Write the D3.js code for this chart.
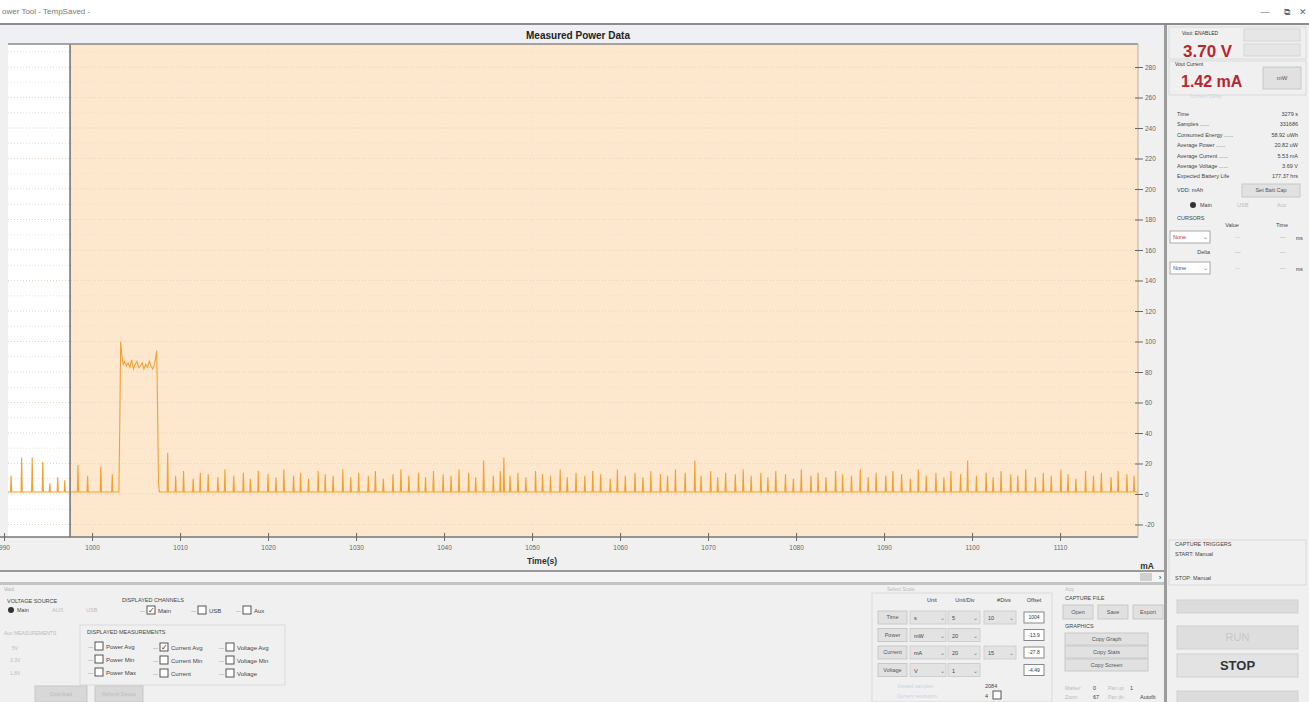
<!DOCTYPE html>
<html><head><meta charset="utf-8">
<script src="https://cdn.jsdelivr.net/npm/d3@7"></script>
<style>
html,body{margin:0;padding:0;background:#f0f0f0;overflow:hidden;}
svg{display:block;font-family:"Liberation Sans",Arial,sans-serif;}
</style></head>
<body>
<svg id="c" width="1309" height="702"></svg>
<script>
// ---------------- DATA ----------------
const xTickValues = [990,1000,1010,1020,1030,1040,1050,1060,1070,1080,1090,1100,1110];
const xTickLabels = ["990","1000","1010","1020","1030","1040","1050","1060","1070","1080","1090","1100","1110"];
const yTickValues = [-20,0,20,40,60,80,100,120,140,160,180,200,220,240,260,280];
const yTickLabels = ["-20","0","20","40","60","80","100","120","140","160","180","200","220","240","260","280"];
const baseCurrent = 1.3;   // mA idle level
const spikeTimes = [990.8,992.0,993.2,994.4,995.2,996.1,996.9,998.4,999.5,1001.0,1002.3,
 1008.6,1009.5,1010.4,1011.5,1012.3,1013.2,1014.3,1015.1,1016.1,1017.2,1018.0,1018.9,1020.0,1020.9,
 1021.8,1022.9,1023.7,1024.6,1025.7,1026.5,1027.4,1028.5,1029.4,1030.3,1031.4,1032.2,1033.1,1034.2,
 1035.1,1036.0,1037.1,1037.9,1038.8,1039.9,1040.8,1041.7,1042.8,1043.6,1044.5,1045.6,1046.4,1046.8,
 1047.5,1048.4,1049.3,1050.4,1051.2,1052.1,1053.2,1054.0,1055.0,1056.0,1056.9,1057.8,1058.9,1059.7,
 1060.6,1061.7,1062.6,1063.5,1064.6,1065.4,1066.3,1067.4,1068.5,1069.2,1070.3,1071.1,1072.0,1073.1,
 1074.0,1074.9,1076.0,1076.8,1077.7,1078.8,1079.7,1080.6,1081.7,1082.5,1083.4,1084.5,1085.3,1086.3,
 1087.3,1088.2,1089.1,1090.2,1091.0,1092.0,1093.0,1093.9,1094.8,1095.9,1096.8,1097.6,1098.7,1099.5,
 1100.5,1101.6,1102.4,1103.3,1104.4,1105.2,1106.1,1107.2,1108.1,1109.0,1110.1,1110.9,1111.8,1112.9,
 1113.8,1114.7,1115.8,1116.6,1117.6,1118.4];
const spikeValues = [12,24,24,21,7,11,9,19,12,18,13,
 27,12,15,10,14,13,11,16,12,14,10,15,13,11,
 16,12,14,10,15,13,12,16,11,14,12,15,10,13,
 16,12,14,11,15,13,12,16,14,11,22,12,15,24,
 12,14,11,15,13,12,16,11,14,12,15,13,10,16,
 12,14,11,15,13,12,16,14,22,12,15,11,14,13,
 16,12,14,11,15,13,10,16,12,14,11,15,13,12,
 16,11,14,12,15,13,10,16,12,14,11,15,13,22,
 12,14,11,15,13,12,16,11,14,12,16,13,10,15,
 12,14,11,15,13,12];
const burstTimes = [1003.05,1003.15,1003.25,1003.4,1003.55,1003.7,1003.9,1004.1,1004.3,1004.5,1004.7,1004.9,
 1005.1,1005.3,1005.5,1005.7,1005.9,1006.1,1006.3,1006.5,1006.7,1006.9,1007.1,1007.25,1007.35,1007.45,1007.55,1007.65];
const burstValues = [1.3,45,100,90,85,87,84,86,83,88,82,85,87,83,84,86,82,85,83,87,84,82,85,90,94,55,8,1.3];
const captureStart = 997.5;

const statLabels = ["Time","Samples","Consumed Energy","Average Power","Average Current","Average Voltage","Expected Battery Life"];
const statValues = ["3279  s","331686","58.92  uWh","20.82  uW","5.53  mA","3.69  V","177.37  hrs"];

// ---------------- CHART ----------------
const svg = d3.select("#c");
const plotL = 8, plotR = 1138, plotT = 44, plotB = 537;
const x = d3.scaleLinear().domain([990.45, 1118.86]).range([plotL, plotR]);
const y = d3.scaleLinear().domain([-28.2, 295.1]).range([plotB, plotT]);

// window title bar
svg.append("rect").attr("x",0).attr("y",0).attr("width",1309).attr("height",23).attr("fill","#ffffff");
svg.append("text").attr("x",2).attr("y",14).attr("font-size",8).attr("fill","#777").text("ower Tool - TempSaved -");
[["—",1265],["⧉",1287],["✕",1303]].forEach(([s,xx])=>svg.append("text").attr("x",xx).attr("y",15).attr("text-anchor","middle").attr("font-size",9).attr("fill","#666").text(s));
svg.append("rect").attr("x",0).attr("y",23).attr("width",1309).attr("height",2).attr("fill","#8c8c8c");

// chart header
svg.append("rect").attr("x",0).attr("y",25).attr("width",1165).attr("height",19).attr("fill","#eef0f3");
svg.append("text").attr("x",578).attr("y",39).attr("text-anchor","middle").attr("font-size",10).attr("font-weight","bold").attr("fill","#222").text("Measured Power Data");

// plot backgrounds
svg.append("rect").attr("x",plotL).attr("y",plotT).attr("width",plotR-plotL).attr("height",plotB-plotT).attr("fill","#ffffff");
svg.append("rect").attr("x",x(captureStart)).attr("y",plotT).attr("width",plotR-x(captureStart)).attr("height",plotB-plotT).attr("fill","#fde8cd");

// grid
const grid = svg.append("g");
d3.range(-20, 291, 10).forEach(v=>{
  grid.append("line").attr("x1",plotL).attr("x2",plotR).attr("y1",y(v)).attr("y2",y(v))
    .attr("stroke", v%20===0 ? "#e2d5c3" : "#ebe0d0").attr("stroke-width",1).attr("stroke-dasharray","1,2");
});
xTickValues.forEach(v=>{
  if (x(v) > plotL) grid.append("line").attr("x1",x(v)).attr("x2",x(v)).attr("y1",plotT).attr("y2",plotB)
    .attr("stroke","#efe4d4").attr("stroke-dasharray","1,3");
});

// series
const pts = [];
pts.push([990.45, baseCurrent]);
const allEvents = spikeTimes.map((t,i)=>({t, v:spikeValues[i]}));
let bi = 0;
allEvents.forEach(e=>{
  if (bi===0 && e.t > burstTimes[0]) { burstTimes.forEach((t,i)=>pts.push([t,burstValues[i]])); bi=1; }
  pts.push([e.t-0.07, baseCurrent]); pts.push([e.t, e.v]); pts.push([e.t+0.07, baseCurrent]);
});
pts.push([1118.86, baseCurrent]);
const line = d3.line().x(d=>x(d[0])).y(d=>y(d[1]));
svg.append("path").attr("d", line(pts)).attr("fill","none").attr("stroke","#f3a032").attr("stroke-width",1.1);

// plot border
svg.append("line").attr("x1",x(captureStart)).attr("x2",x(captureStart)).attr("y1",plotT).attr("y2",plotB).attr("stroke","#6e6e6e").attr("stroke-width",1.5);
svg.append("line").attr("x1",plotL).attr("x2",plotR).attr("y1",plotT).attr("y2",plotT).attr("stroke","#8a8a8a").attr("stroke-width",1.5);
svg.append("line").attr("x1",0).attr("x2",plotR).attr("y1",plotB).attr("y2",plotB).attr("stroke","#777").attr("stroke-width",1.5);
svg.append("line").attr("x1",plotR).attr("x2",plotR).attr("y1",plotT).attr("y2",plotB).attr("stroke","#b9b0a4").attr("stroke-width",1);

// axes
const xAxis = d3.axisBottom(x).tickValues(xTickValues).tickFormat((d,i)=>xTickLabels[i]).tickSize(8).tickPadding(4);
const gx = svg.append("g").attr("transform",`translate(0,${plotB-4})`).call(xAxis);
gx.select(".domain").remove();
gx.selectAll("line").attr("stroke","#666");
gx.selectAll("text").attr("font-size",6.5).attr("fill","#666");
const yAxis = d3.axisRight(y).tickValues(yTickValues).tickFormat((d,i)=>yTickLabels[i]).tickSize(8).tickPadding(2);
const gy = svg.append("g").attr("transform",`translate(${plotR-3},0)`).call(yAxis);
gy.select(".domain").remove();
gy.selectAll("line").attr("stroke","#666");
gy.selectAll("text").attr("font-size",6.5).attr("fill","#666");

svg.append("text").attr("x",542).attr("y",564).attr("text-anchor","middle").attr("font-size",8.5).attr("font-weight","bold").attr("fill","#333").text("Time(s)");
svg.append("text").attr("x",1147).attr("y",569).attr("text-anchor","middle").attr("font-size",8.5).attr("font-weight","bold").attr("fill","#333").text("mA");

// scroll strip
svg.append("rect").attr("x",0).attr("y",570).attr("width",1165).attr("height",2).attr("fill","#9a9a9a");
svg.append("rect").attr("x",0).attr("y",572).attr("width",1165).attr("height",10).attr("fill","#f4f4f4");
svg.append("rect").attr("x",1140).attr("y",573).attr("width",12).attr("height",8).attr("fill","#d0d0d0");
svg.append("text").attr("x",1160).attr("y",580).attr("text-anchor","middle").attr("font-size",8).attr("fill","#333").text("›");
svg.append("rect").attr("x",0).attr("y",582).attr("width",1165).attr("height",3).attr("fill","#c4c4c4");

// right divider
svg.append("rect").attr("x",1164).attr("y",25).attr("width",3).attr("height",677).attr("fill","#9c9c9c");

// ---------------- UI helpers ----------------
function t(xx,yy,s,o={}){return svg.append("text").attr("x",xx).attr("y",yy).attr("font-size",o.fs||6).attr("fill",o.c||"#444")
  .attr("font-weight",o.fw||"normal").attr("text-anchor",o.a||"start").text(s);}
function btn(xx,yy,w,h,s,o={}){svg.append("rect").attr("x",xx).attr("y",yy).attr("width",w).attr("height",h).attr("fill",o.bg||"#e1e1e1").attr("stroke",o.st||"#c8c8c8");
  if(s) t(xx+w/2,yy+h/2+(o.fs||6)*0.35,s,{fs:o.fs||6,c:o.c||"#555",fw:o.fw,a:"middle"});}
function cb(xx,yy,checked,label){svg.append("rect").attr("x",xx).attr("y",yy-7).attr("width",8).attr("height",8).attr("fill","#fff").attr("stroke","#555");
  if(checked) t(xx+4,yy,"✓",{fs:8,c:"#333",a:"middle"}); t(xx-7,yy,"—",{fs:5,c:"#999"}); t(xx+11,yy,label,{fs:6,c:"#444"});}
function box(xx,yy,w,h){svg.append("rect").attr("x",xx).attr("y",yy).attr("width",w).attr("height",h).attr("fill","none").attr("stroke","#dadada");}

// ---------------- right panel ----------------
box(1169,27,137,32); box(1169,61,137,34);
t(1182,35,"Vout:  ENABLED",{fs:5,c:"#333"});
t(1183,57,"3.70  V",{fs:17,c:"#b8262f",fw:"bold"});
btn(1244,29,56,12,"",{bg:"#e6e6e6",st:"#d6d6d6"}); btn(1244,44,56,12,"",{bg:"#e6e6e6",st:"#d6d6d6"});
t(1175,66,"Vout Current",{fs:5,c:"#333"});
t(1181,87,"1.42  mA",{fs:16,c:"#b8262f",fw:"bold"});
btn(1263,67,38,22,"mW",{fs:6});
t(1190,98,"Convert Delay",{fs:5,c:"#c8d6ea"});
statLabels.forEach((s,i)=>{const yy=116+i*10.4; t(1177,yy,s+(i>0&&i<6?" ......":""),{fs:5.5,c:"#444"}); t(1298,yy,statValues[i],{fs:5.5,c:"#444",a:"end"});});
t(1177,192,"VDD:   mAh",{fs:5.5}); btn(1242,184,58,13,"Set Batt Cap",{fs:5.5});
svg.append("circle").attr("cx",1193).attr("cy",205).attr("r",3).attr("fill","#333");
t(1200,207,"Main",{fs:5.5}); t(1237,207,"USB",{fs:5.5,c:"#bbb"}); t(1277,207,"Aux",{fs:5.5,c:"#bbb"});
t(1177,220,"CURSORS",{fs:5.5}); t(1232,227,"Value",{fs:5.5,a:"middle"}); t(1282,227,"Time",{fs:5.5,a:"middle"});
btn(1170,231,40,12,"",{bg:"#fff",st:"#aaa"}); t(1173,239,"None",{fs:5.5,c:"#c0392b"}); t(1203,239,"⌄",{fs:6,c:"#777"});
t(1235,239,"---",{fs:5.5,c:"#bbb"}); t(1280,239,"---",{fs:5.5,c:"#999"}); t(1296,240,"ms",{fs:5,c:"#333"});
t(1210,254,"Delta",{fs:5.5,a:"end"}); t(1235,254,"---",{fs:5.5,c:"#999"}); t(1280,254,"---",{fs:5.5,c:"#999"});
btn(1170,262,40,12,"",{bg:"#fff",st:"#aaa"}); t(1173,270,"None",{fs:5.5,c:"#2d4fb3"}); t(1203,270,"⌄",{fs:6,c:"#777"});
t(1235,270,"---",{fs:5.5,c:"#bbb"}); t(1280,270,"---",{fs:5.5,c:"#999"}); t(1296,271,"ms",{fs:5,c:"#333"});
box(1169,540,137,45);
t(1175,546,"CAPTURE TRIGGERS",{fs:5.5}); t(1175,556,"START:   Manual",{fs:5.5}); t(1175,580,"STOP:   Manual",{fs:5.5});
btn(1177,600,121,13,"",{bg:"#dcdcdc",st:"#d0d0d0"});
btn(1177,626,121,23,"RUN",{fs:11,c:"#c8c8c8",bg:"#dedede",st:"#d0d0d0"});
btn(1177,654,121,23,"STOP",{fs:13,c:"#333",fw:"bold",bg:"#e3e3e3",st:"#cfcfcf"});
btn(1177,691,121,13,"",{bg:"#dcdcdc",st:"#d0d0d0"});

// ---------------- bottom panel ----------------
t(4,591,"Vout",{fs:5,c:"#aaa"});
t(7,603,"VOLTAGE SOURCE",{fs:5.5});
svg.append("circle").attr("cx",11).attr("cy",610).attr("r",3).attr("fill","#333");
t(17,612,"Main",{fs:5.5}); t(52,612,"AUX",{fs:5.5,c:"#bbb"}); t(86,612,"USB",{fs:5.5,c:"#bbb"});
t(122,602,"DISPLAYED CHANNELS",{fs:5.5});
cb(147,613,true,"Main"); cb(198,613,false,"USB"); cb(243,613,false,"Aux");
t(4,635,"Aux MEASUREMENTS",{fs:5,c:"#bbb"}); t(12,650,"5V",{fs:5,c:"#bbb"}); t(10,662,"3.3V",{fs:5,c:"#bbb"}); t(10,675,"1.8V",{fs:5,c:"#bbb"});
box(80,625,205,60);
t(87,634,"DISPLAYED MEASUREMENTS",{fs:5.5});
cb(95,649,false,"Power Avg"); cb(95,662,false,"Power Min"); cb(95,675,false,"Power Max");
cb(160,650,true,"Current Avg"); cb(160,663,false,"Current Min"); cb(160,676,false,"Current");
cb(226,650,false,"Voltage Avg"); cb(226,663,false,"Voltage Min"); cb(226,676,false,"Voltage");
btn(35,686,52,16,"Download",{fs:5,c:"#bbb",bg:"#d8d8d8"}); btn(95,686,48,16,"Refresh Device",{fs:5,c:"#bbb",bg:"#d8d8d8"});

// scale panel
box(872,593,180,109);
t(887,591,"Select Scale",{fs:5,c:"#bbb"});
t(932,602,"Unit",{fs:5.5,a:"middle"}); t(965,602,"Unit/Div",{fs:5.5,a:"middle"}); t(1004,602,"#Divs",{fs:5.5,a:"middle"}); t(1034,602,"Offset",{fs:5.5,a:"middle"});
const rowNames=["Time","Power","Current","Voltage"], rowUnits=["s","mW","mA","V"], rowDiv=["5","20","20","1"], rowN=["10","","15",""], rowOff=["1004","-13.9","-27.8","-4.49"];
rowNames.forEach((r,i)=>{const yy=611+i*17.5;
  btn(878,yy,29,13,r,{fs:5.5});
  btn(910,yy,36,13,"",{bg:"#e3e3e3",st:"#cfcfcf"}); t(914,yy+9,rowUnits[i],{fs:5.5}); t(940,yy+9,"⌄",{fs:6,c:"#777"});
  btn(948,yy,32,13,"",{bg:"#e3e3e3",st:"#cfcfcf"}); t(952,yy+9,rowDiv[i],{fs:5.5}); t(973,yy+9,"⌄",{fs:6,c:"#777"});
  if(rowN[i]){btn(984,yy,32,13,"",{bg:"#e3e3e3",st:"#cfcfcf"}); t(988,yy+9,rowN[i],{fs:5.5}); t(1009,yy+9,"⌄",{fs:6,c:"#777"});}
  btn(1024,yy+1,20,11,rowOff[i],{fs:5,bg:"#fff",st:"#888",c:"#333"});
});
t(897,688,"Viewed samples",{fs:5,c:"#c5d3e6"}); t(985,688,"2084",{fs:5.5});
t(897,698,"Current resolution",{fs:5,c:"#c5d3e6"}); t(985,698,"4",{fs:5.5}); btn(993,691,8,8,"",{bg:"#fff",st:"#555"});
// file / graphics
t(1065,591,"Acq",{fs:5,c:"#bbb"});
t(1065,600,"CAPTURE FILE",{fs:5.5});
btn(1063,605,30,14,"Open",{fs:5.5}); btn(1098,605,30,14,"Save",{fs:5.5}); btn(1133,605,30,14,"Export",{fs:5.5});
t(1065,628,"GRAPHICS",{fs:5.5});
btn(1065,633,83,12,"Copy Graph",{fs:5.5}); btn(1065,646,83,12,"Copy Stats",{fs:5.5}); btn(1065,659,83,12,"Copy Screen",{fs:5.5});
t(1065,690,"Marker",{fs:5,c:"#bbb"}); t(1093,690,"0",{fs:5.5}); t(1108,690,"Pan up",{fs:5,c:"#bbb"}); t(1130,690,"1",{fs:5.5});
t(1065,699,"Zoom",{fs:5,c:"#bbb"}); t(1093,699,"67",{fs:5.5}); t(1108,699,"Pan dn",{fs:5,c:"#bbb"}); t(1140,699,"Autofit",{fs:5.5});
</script>
</body></html>
